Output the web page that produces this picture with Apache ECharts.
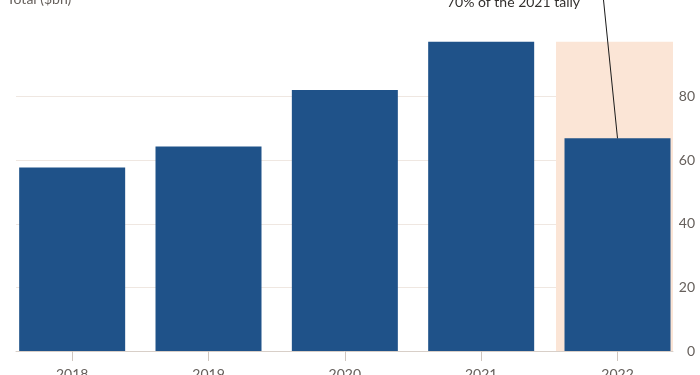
<!DOCTYPE html>
<html>
<head>
<meta charset="utf-8">
<script src="https://cdn.jsdelivr.net/npm/echarts@6/dist/echarts.min.js"></script>
<style>html,body{margin:0;padding:0;background:#fff}#c{width:700px;height:375px}</style>
</head>
<body>
<div id="c"></div>
<script>
var years = ['2018', '2019', '2020', '2021', '2022'];
var totals = [57.7, 64.3, 82.1, 97.3, 66.9];
var yTicks = [0, 20, 40, 60, 80];
var titleText = 'Total ($bn)';
var noteText = '70% of the 2021 tally';

var xMin = -0.412, xMax = 4.407;
var chart = echarts.init(document.getElementById('c'), null, {renderer: 'canvas'});
var font = 'Lato, "Noto Sans", sans-serif';
var idx = years.map(function (y, i) { return i; });
chart.setOption({
  backgroundColor: '#ffffff',
  animation: false,
  grid: {left: 16, right: 27, top: 351 - 100 * 3.179, bottom: 24, containLabel: false, outerBoundsMode: 'none'},
  xAxis: {
    type: 'value', min: xMin, max: xMax,
    axisLine: {show: true, onZero: false, lineStyle: {color: '#d8cfc8', width: 1}},
    axisTick: {show: true, customValues: idx, length: 10, lineStyle: {color: '#cfc6bf'}},
    axisLabel: {customValues: idx, margin: 16, color: '#66605c', fontSize: 14, fontFamily: font,
      formatter: function (v) { return years[Math.round(v)]; }},
    splitLine: {show: false}
  },
  yAxis: {
    type: 'value', position: 'right', min: 0, max: 100, interval: 20,
    axisLine: {show: false}, axisTick: {show: false},
    axisLabel: {customValues: yTicks, margin: 22, align: 'right', color: '#66605c', fontSize: 14, fontFamily: font},
    splitLine: {show: true, showMinLine: false, showMaxLine: false, lineStyle: {color: '#efe7e1', width: 1}}
  },
  series: [
    {
      type: 'line', data: [], z: -1, silent: true,
      markArea: {silent: true, itemStyle: {color: '#fbe5d6'},
        data: [[{xAxis: 3.549, yAxis: 0}, {xAxis: xMax, yAxis: totals[3]}]]}
    },
    {
      type: 'bar', barWidth: 106, clip: false, z: 2,
      itemStyle: {color: '#1f5289'},
      data: totals.map(function (v, i) { return [i, v]; }),
      markLine: {
        silent: true, symbol: ['none', 'none'],
        lineStyle: {color: '#1a1a1a', width: 1, type: 'solid'},
        label: {show: false},
        data: [[{coord: [4, totals[4]]}, {x: 601.5, y: -20}]]
      }
    }
  ],
  graphic: [
    {type: 'text', left: 7, top: -8, style: {text: titleText, fill: '#66605c', font: '14px ' + font}},
    {type: 'text', left: 447, top: -5, style: {text: noteText, fill: '#33302e', font: '14px ' + font}}
  ]
});
</script>
</body>
</html>
